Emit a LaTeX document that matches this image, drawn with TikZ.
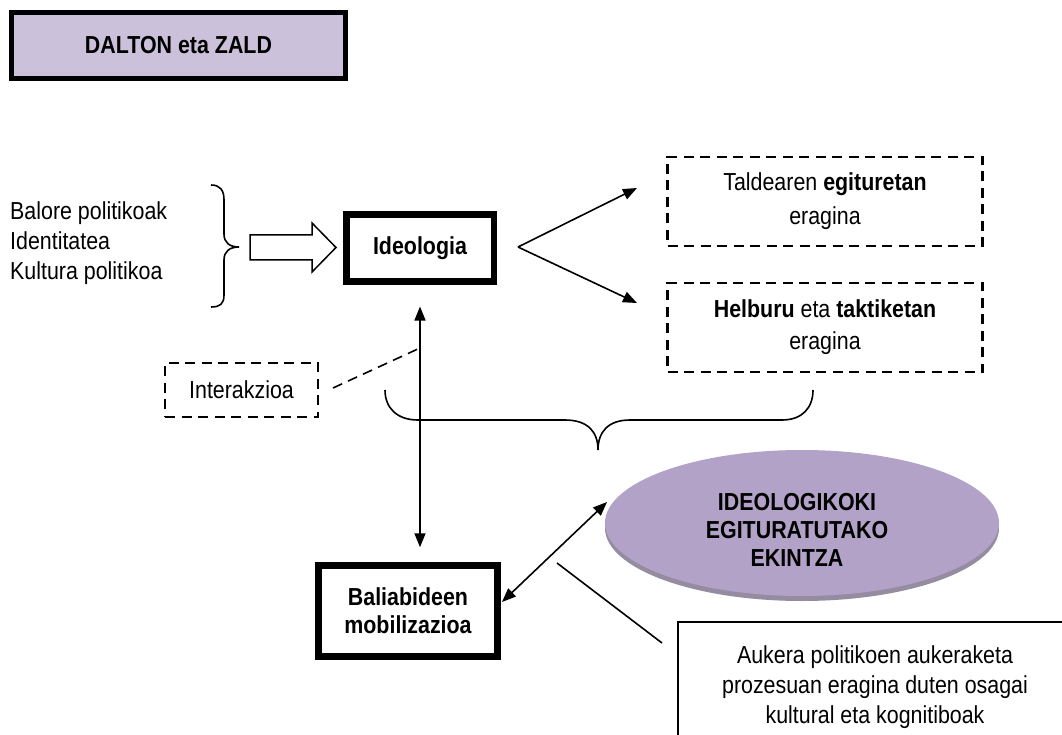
\documentclass[tikz,border=0pt]{standalone}
\usepackage{fontspec}
\setmainfont[FakeStretch=0.87]{Liberation Sans}
\usetikzlibrary{arrows.meta,shapes.geometric}
\definecolor{titlefill}{HTML}{CCC1DA}
\definecolor{ellfill}{HTML}{B3A2C7}
\definecolor{ellshadow}{HTML}{958CA2}
\begin{document}
\begin{tikzpicture}[x=1pt,y=-1pt,
  every node/.style={inner sep=0pt, align=center},
  txt/.style={font=\fontsize{24.6}{#1}\selectfont},
  txt/.default=30,
  solidbox/.style={draw, line width=#1},
  dashbox/.style={draw, line width=2.2pt, dash pattern=on 10pt off 6.5pt},
  conn/.style={line width=1.6pt},
  tip/.tip={Triangle[length=14pt,width=11pt]},
  arr/.style={conn, -tip},
  darr/.style={conn, tip-tip},
  bracepath/.style={line width=1.6pt}]
\clip (0,0) rectangle (1062,735);
\fill[white] (0,0) rectangle (1062,735);

% title
\node[solidbox=4.5pt, fill=titlefill, minimum width=334, minimum height=66, txt] (title) at (178.5,45.5) {\bfseries DALTON eta ZALD};

% list and brace
\node[anchor=west, align=left, txt=30] (list) at (10,243) {Balore politikoak\\Identitatea\\Kultura politikoa};
\draw[bracepath] (211,185) .. controls (220,185) and (224,190) .. (224,200) -- (224,234)
  .. controls (224,243) and (230,247) .. (239,247)
  .. controls (230,247) and (224,251) .. (224,260) -- (224,295)
  .. controls (224,304) and (220,307) .. (211,307);

% hollow arrow
\draw[line width=1.5pt] (250,235) -- (312,235) -- (312,223) -- (336,247.5) -- (312,272) -- (312,260) -- (250,260) -- cycle;

% Ideologia
\node[solidbox=6.5pt, minimum width=147.5, minimum height=66.5, txt] (ideo) at (420,248) {\bfseries Ideologia};

\coordinate (split) at (518,247);
\coordinate (tipA) at (637,188);
\coordinate (tipB) at (637,303);
\draw[arr] (split) -- (tipA);
\draw[arr] (split) -- (tipB);

% dashed boxes
\node[dashbox, minimum width=315, minimum height=89, txt=34] (struct) at (825,201.5) {Taldearen \textbf{egituretan}\\eragina};
\node[dashbox, minimum width=315, minimum height=89, txt=32] (goals) at (825,327.5) {\textbf{Helburu} eta \textbf{taktiketan}\\eragina};

% Interakzioa
\node[dashbox, minimum width=153, minimum height=54, txt] (inter) at (241.5,390) {Interakzioa};
\coordinate (interA) at (333,388);
\coordinate (interB) at (420,348);
\draw[conn, dash pattern=on 10pt off 6.5pt] (interA) -- (interB);

% bottom brace
\draw[bracepath] (385,390) .. controls (385,408) and (397,420) .. (418,420) -- (565,420)
  .. controls (588,420) and (598,432) .. (598,450)
  .. controls (598,432) and (608,420) .. (630,420) -- (782,420)
  .. controls (802,420) and (813,408) .. (813,390);

% Baliabideen
\node[solidbox=7pt, minimum width=179.5, minimum height=91.5, txt=28] (bal) at (408,611) {\bfseries Baliabideen\\\bfseries mobilizazioa};

% vertical double arrow
\draw[darr, shorten <=22pt, shorten >=14.5pt] (ideo.south) -- (ideo.south |- bal.north);

% ellipse
\node[ellipse, fill=ellshadow, minimum width=394, minimum height=146] (actshadow) at (802,528) {};
\node[ellipse, fill=ellfill, minimum width=394, minimum height=146] (act) at (802,523) {};
\node[txt=28] (acttext) at (797,530) {\bfseries IDEOLOGIKOKI\\\bfseries EGITURATUTAKO\\\bfseries EKINTZA};

% diagonal double arrow
\coordinate (dA) at (502,602);
\coordinate (dB) at (607,502);
\draw[darr] (dA) -- (dB);

% plain line
\coordinate (lA) at (557,563);
\coordinate (lB) at (662,643);
\draw[conn] (lA) -- (lB);

% note box
\node[draw, line width=1.5pt, minimum width=500, minimum height=200, anchor=north west] (note) at (677,621) {};
\node[txt=30] (notetext) at (875,687) {Aukera politikoen aukeraketa\\prozesuan eragina duten osagai\\kultural eta kognitiboak};
\end{tikzpicture}
\end{document}
